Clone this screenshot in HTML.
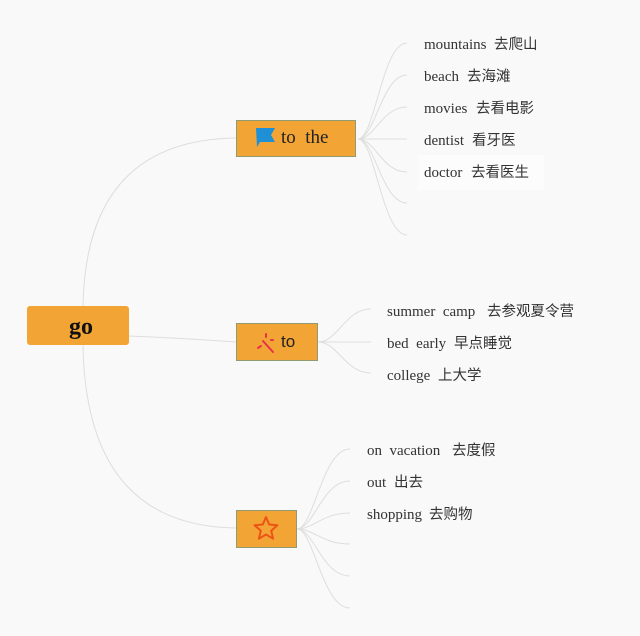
<!DOCTYPE html>
<html><head><meta charset="utf-8"><style>
html,body{margin:0;padding:0;background:#f9f9fa;}
svg{display:block}
.en{font-family:"Liberation Serif",serif;font-size:15px;fill:#333}
.cn{font-family:"Liberation Sans","Noto Sans CJK SC",sans-serif;font-size:14.5px;fill:#333}
</style></head><body>
<svg width="640" height="636" viewBox="0 0 640 636" xmlns="http://www.w3.org/2000/svg">
<rect width="640" height="636" fill="#f9f9fa"/>
<rect x="418" y="155" width="126" height="35" fill="#fcfcfd"/>
<g fill="none" stroke="#dedede" stroke-width="1">
  <path d="M83 306 Q86 140 236 138"/>
  <path d="M83 345 Q86 526 236 528"/>
  <path d="M129 336 Q180 338 236 342"/>
  <path d="M358 139 C375 139 382 43 407 43"/>
  <path d="M358 139 C375 139 382 75 407 75"/>
  <path d="M358 139 C375 139 382 107 407 107"/>
  <path d="M358 139 L407 139"/>
  <path d="M358 139 C375 139 382 172 407 172"/>
  <path d="M358 139 C375 139 382 203 407 203"/>
  <path d="M358 139 C375 139 382 235 407 235"/>
  <path d="M318 342 C338 342 345 309 371 309"/>
  <path d="M318 342 L371 342"/>
  <path d="M318 342 C338 342 345 373 371 373"/>
  <path d="M297 529 C314 529 322 449 350 449"/>
  <path d="M297 529 C314 529 322 481 350 481"/>
  <path d="M297 529 C314 529 322 513 350 513"/>
  <path d="M297 529 C314 529 322 544 350 544"/>
  <path d="M297 529 C314 529 322 576 350 576"/>
  <path d="M297 529 C314 529 322 608 350 608"/>
</g>
<rect x="27" y="306" width="102" height="39" rx="3" fill="#f2a535"/>
<text x="69" y="334" font-family="Liberation Serif,serif" font-weight="bold" font-size="24" fill="#111">go</text>
<rect x="236.5" y="120.5" width="119" height="36" fill="#f2a535" stroke="#8f9b72" stroke-width="1"/>
<path d="M256 128 L275 128 L271 135 L275 142 L260 142 L257 147 Z" fill="#1f8fd6"/>
<text x="281" y="143" font-family="Liberation Serif,serif" font-size="19" fill="#222" xml:space="preserve">to  the</text>
<rect x="236.5" y="323.5" width="81" height="37" fill="#f2a535" stroke="#8f9b72" stroke-width="1"/>
<g stroke="#e8304a" stroke-width="2" stroke-linecap="round">
  <line x1="263" y1="341" x2="273" y2="352"/>
  <line x1="258" y1="348" x2="261" y2="346"/>
  <line x1="266" y1="334" x2="266" y2="337"/>
  <line x1="271" y1="340" x2="273" y2="340"/>
</g>
<text x="281" y="347" font-family="Liberation Sans,sans-serif" font-size="17" fill="#222">to</text>
<rect x="236.5" y="510.5" width="60" height="37" fill="#f2a535" stroke="#8f9b72" stroke-width="1"/>
<path d="M266 517 L269.2 524.5 L277.4 525.3 L271.2 530.7 L273.1 538.7 L266 534.5 L258.9 538.7 L260.8 530.7 L254.6 525.3 L262.8 524.5 Z" fill="none" stroke="#ee5316" stroke-width="2" stroke-linejoin="round"/>
<text class="en" x="424" y="49">mountains</text><text class="cn" x="494" y="49">去爬山</text>
<text class="en" x="424" y="81">beach</text><text class="cn" x="467" y="81">去海滩</text>
<text class="en" x="424" y="113">movies</text><text class="cn" x="476" y="113">去看电影</text>
<text class="en" x="424" y="145">dentist</text><text class="cn" x="472" y="145">看牙医</text>
<text class="en" x="424" y="177">doctor</text><text class="cn" x="471" y="177">去看医生</text>
<text class="en" x="387" y="316" xml:space="preserve">summer  camp</text><text class="cn" x="487" y="316">去参观夏令营</text>
<text class="en" x="387" y="348" xml:space="preserve">bed  early</text><text class="cn" x="454" y="348">早点睡觉</text>
<text class="en" x="387" y="380">college</text><text class="cn" x="438" y="380">上大学</text>
<text class="en" x="367" y="455" xml:space="preserve">on  vacation</text><text class="cn" x="452" y="455">去度假</text>
<text class="en" x="367" y="487">out</text><text class="cn" x="394" y="487">出去</text>
<text class="en" x="367" y="519">shopping</text><text class="cn" x="429" y="519">去购物</text>
</svg>
</body></html>
